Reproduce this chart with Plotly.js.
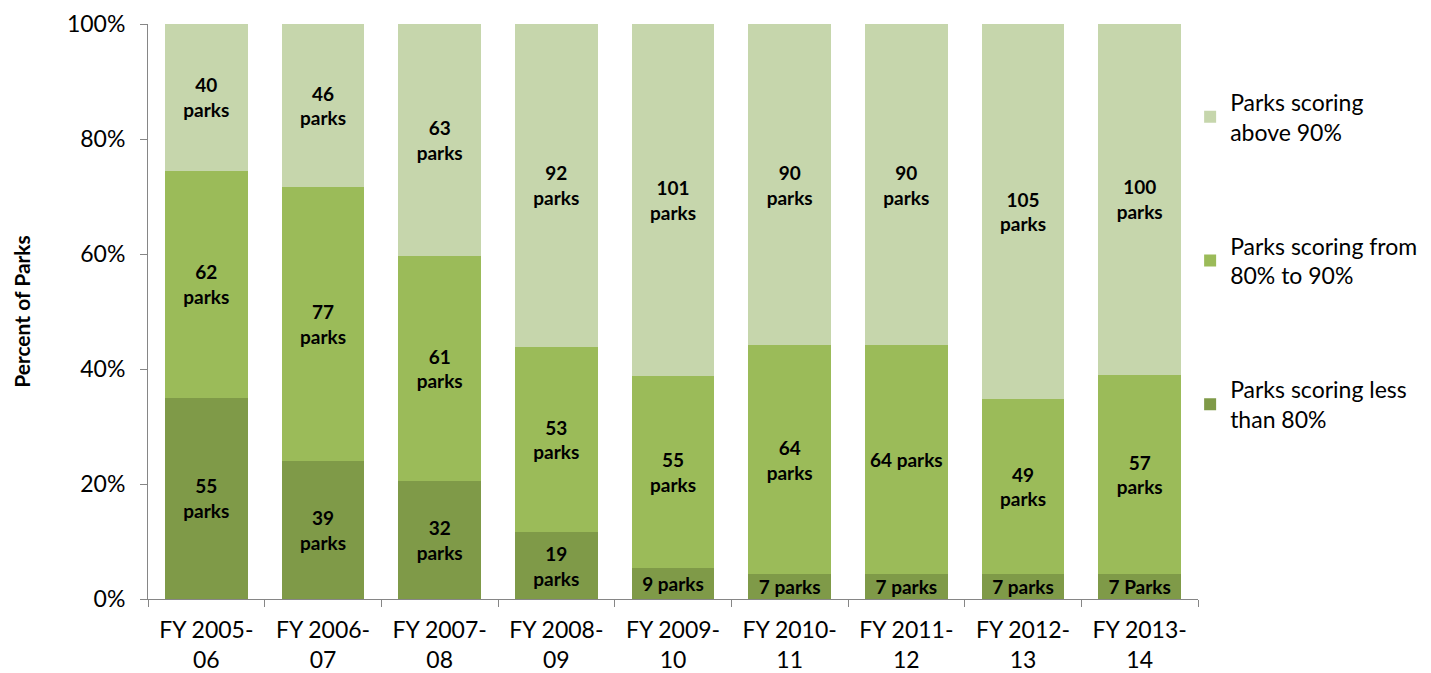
<!DOCTYPE html>
<html>
<head>
<meta charset="utf-8">
<script src="https://cdn.plot.ly/plotly-3.0.1.min.js"></script>
<style>
  html, body { margin: 0; padding: 0; background: #fff; }
  #chart { width: 1431px; height: 673px; }
</style>
</head>
<body>
<div id="chart"></div>
<script>
const categories = ["FY 2005-<br>06", "FY 2006-<br>07", "FY 2007-<br>08", "FY 2008-<br>09", "FY 2009-<br>10", "FY 2010-<br>11", "FY 2011-<br>12", "FY 2012-<br>13", "FY 2013-<br>14"];
const lessThan80 = [55, 39, 32, 19, 9, 7, 7, 7, 7];
const from80to90 = [62, 77, 61, 53, 55, 64, 64, 49, 57];
const above90 = [40, 46, 63, 92, 101, 90, 90, 105, 100];
const lessLabels = ["55<br>parks", "39<br>parks", "32<br>parks", "19<br>parks", "9 parks", "7 parks", "7 parks", "7 parks", "7 Parks"];
const midLabels = ["62<br>parks", "77<br>parks", "61<br>parks", "53<br>parks", "55<br>parks", "64<br>parks", "64 parks", "49<br>parks", "57<br>parks"];
const topLabels = ["40<br>parks", "46<br>parks", "63<br>parks", "92<br>parks", "101<br>parks", "90<br>parks", "90<br>parks", "105<br>parks", "100<br>parks"];
const seriesNames = ["Parks scoring less<br>than 80%", "Parks scoring from<br>80% to 90%", "Parks scoring<br>above 90%"];
const colors = ["#7F9A48", "#9BBB59", "#C6D6AC"];

const font = "Lato, 'Open Sans', sans-serif";
const labelFont = {family: font, size: 19, color: "#000", weight: "bold"};

function mk(vals, labels, i) {
  return {
    type: "bar", x: categories, y: vals, name: seriesNames[i],
    text: labels, textposition: "inside", insidetextanchor: "middle",
    textangle: 0, constraintext: "none", textfont: labelFont,
    marker: {color: colors[i], line: {width: 0}},
    legendgroup: "g" + i, legendrank: 3 - i, hoverinfo: "x+y+name"
  };
}

const data = [mk(lessThan80, lessLabels, 0), mk(from80to90, midLabels, 1), mk(above90, topLabels, 2)];

const layout = {
  width: 1431, height: 673,
  margin: {l: 148, r: 233, t: 24, b: 74, autoexpand: false},
  barmode: "stack", barnorm: "percent", bargap: 0.29,
  paper_bgcolor: "#fff", plot_bgcolor: "#fff",
  font: {family: font, size: 23, color: "#000"},
  showlegend: true,
  legend: {
    x: 0.9925, xanchor: "left", y: 0.902, yanchor: "top",
    traceorder: "grouped", tracegroupgap: 81,
    font: {family: font, size: 23, color: "#000"},
    itemwidth: 30
  },
  xaxis: {
    type: "category", showline: true, linecolor: "#868686", linewidth: 1,
    ticks: "outside", tickson: "boundaries", ticklen: 7, tickcolor: "#868686",
    showgrid: false, tickfont: {family: font, size: 23, color: "#000"},
    ticklabelstandoff: 10
  },
  yaxis: {
    range: [0, 100], dtick: 20, ticksuffix: "%", showgrid: false,
    showline: true, linecolor: "#868686", linewidth: 1,
    ticks: "outside", ticklen: 7, tickcolor: "#868686",
    tickfont: {family: font, size: 23, color: "#000"},
    ticklabelstandoff: 10,
    zeroline: false,
    title: {text: "Percent of Parks", font: {family: font, size: 21, color: "#000", weight: "bold"}, standoff: 30}
  }
};

Plotly.newPlot("chart", data, layout, {displayModeBar: false, staticPlot: true});
</script>
</body>
</html>
